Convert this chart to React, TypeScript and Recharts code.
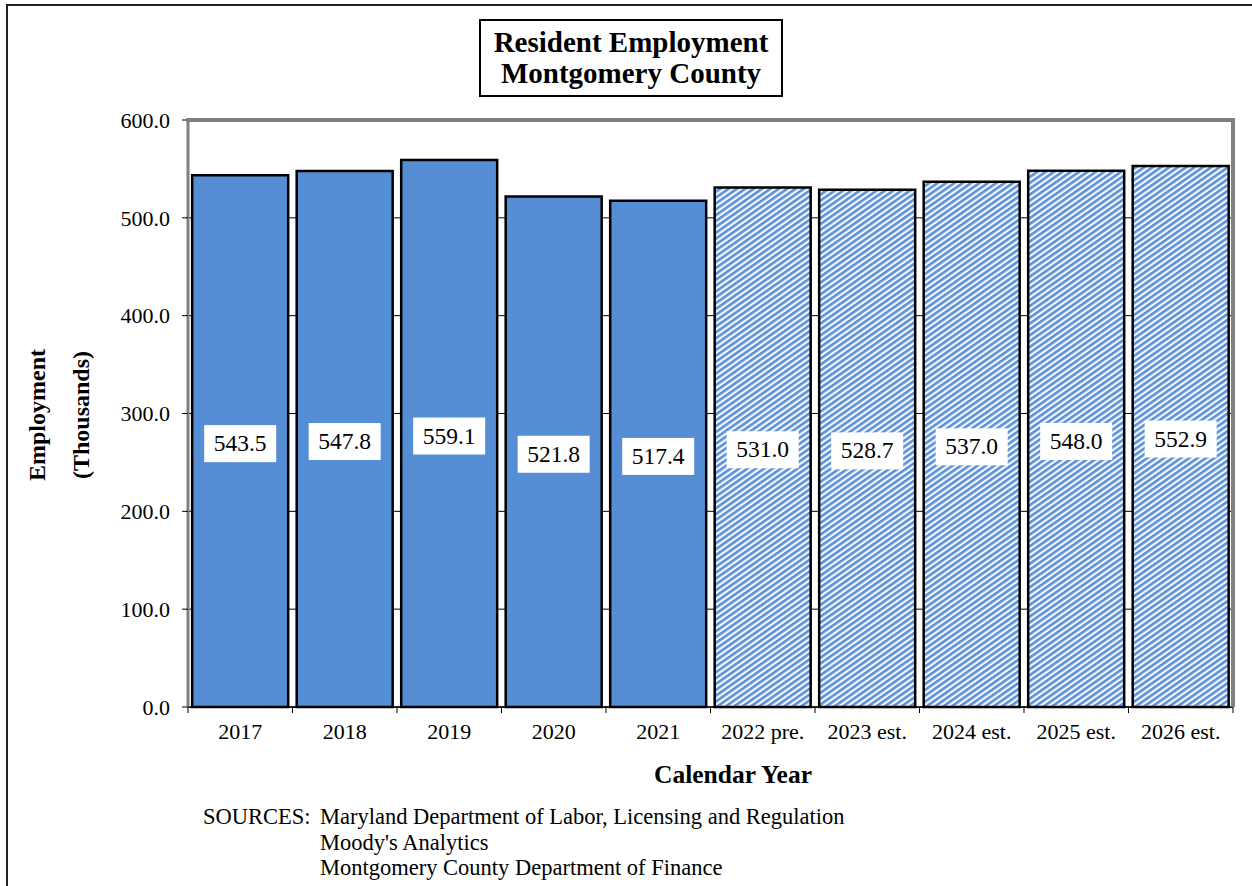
import React from 'react';
import { BarChart, Bar, Cell, XAxis, YAxis, CartesianGrid, LabelList } from 'recharts';

const categories = ['2017', '2018', '2019', '2020', '2021', '2022 pre.', '2023 est.', '2024 est.', '2025 est.', '2026 est.'];
const employment = [543.5, 547.8, 559.1, 521.8, 517.4, 531.0, 528.7, 537.0, 548.0, 552.9];
const isEstimate = [false, false, false, false, false, true, true, true, true, true];
const yTicks = [0, 100, 200, 300, 400, 500, 600];
const sources = [
  'Maryland Department of Labor, Licensing and Regulation',
  "Moody's Analytics",
  'Montgomery County Department of Finance',
];

const data = categories.map((year, i) => ({ year, value: employment[i], est: isEstimate[i] }));

const W = 1252;
const H = 886;
const FONT = '"Liberation Serif", "Times New Roman", serif';
const BLUE = '#558ED5';
const margin = { top: 120, right: 19, bottom: 149, left: 128 };
const Y_AXIS_W = 60;
const plotW = W - margin.left - Y_AXIS_W - margin.right;
const band = plotW / categories.length;

// tick labels at band centre, tick marks at band edges
const XTick = (props: any) => {
  const { x, y, payload, index } = props;
  const half = band / 2;
  return (
    <g>
      <line x1={x - half} y1={y - 6} x2={x - half} y2={y} stroke="#000" strokeWidth={1} />
      {index === categories.length - 1 && (
        <line x1={x + half} y1={y - 6} x2={x + half} y2={y} stroke="#000" strokeWidth={1} />
      )}
      <text x={x} y={y + 26} textAnchor="middle" style={{ fontFamily: FONT, fontSize: 22 }} fill="#000">
        {payload.value}
      </text>
    </g>
  );
};

const ValueLabel = (props: any) => {
  const { x, y, width, height, value } = props;
  const cx = x + width / 2;
  const cy = y + height / 2 + 2;
  return (
    <g>
      <rect x={cx - 36} y={cy - 18} width={72} height={37} fill="#fff" />
      <text x={cx} y={cy + 8} textAnchor="middle" style={{ fontFamily: FONT, fontSize: 23.5 }} fill="#000">
        {Number(value).toFixed(1)}
      </text>
    </g>
  );
};

export default function App() {
  return (
    <div style={{ position: 'absolute', left: 0, top: 0, width: W, height: H, background: '#fff', fontFamily: FONT, color: '#000' }}>
      <BarChart width={W} height={H} data={data} margin={margin} barCategoryGap="4%">
        <defs>
          <pattern id="hatch" patternUnits="userSpaceOnUse" width="10" height="4.8" patternTransform="rotate(-35)">
            <rect x="0" y="0" width="10" height="4.8" fill="#f4f8fd" />
            <rect x="0" y="0" width="10" height="2.6" fill="#5A90D6" />
          </pattern>
        </defs>
        <CartesianGrid vertical={false} stroke="#000" strokeWidth={1} />
        <XAxis
          dataKey="year"
          interval={0}
          height={30}
          tickSize={6}
          tickMargin={0}
          tickLine={false}
          axisLine={{ stroke: '#000', strokeWidth: 1.5 }}
          tick={<XTick />}
        />
        <YAxis
          width={Y_AXIS_W}
          domain={[0, 600]}
          ticks={yTicks}
          interval={0}
          tickSize={6}
          tickMargin={12}
          tickFormatter={(v: number) => v.toFixed(1)}
          axisLine={{ stroke: '#808080', strokeWidth: 3 }}
          tickLine={{ stroke: '#000', strokeWidth: 1 }}
          tick={{ fill: '#000', style: { fontFamily: FONT, fontSize: 22 } }}
        />
        <Bar dataKey="value" stroke="#000" strokeWidth={2.5} isAnimationActive={false}>
          {data.map((d, i) => (
            <Cell key={i} fill={d.est ? 'url(#hatch)' : BLUE} />
          ))}
          <LabelList dataKey="value" position="center" content={<ValueLabel />} />
        </Bar>
      </BarChart>

      {/* plot frame: top and right */}
      <div style={{ position: 'absolute', left: 186, top: 118, width: 1049, height: 4, background: '#808080' }} />
      <div style={{ position: 'absolute', left: 1231, top: 118, width: 4, height: 589, background: '#808080' }} />

      {/* outer border */}
      <div style={{ position: 'absolute', left: 6, top: 4, width: 1246, height: 882, borderTop: '2px solid #222', borderLeft: '2px solid #222', boxSizing: 'border-box' }} />

      {/* title box */}
      <div
        style={{
          position: 'absolute', left: 479, top: 19, width: 304, height: 78, border: '2px solid #000', boxSizing: 'border-box',
          background: '#fff', textAlign: 'center', fontWeight: 'bold', fontSize: 29, lineHeight: '31px', paddingTop: 6, whiteSpace: 'nowrap',
        }}
      >
        <div>Resident Employment</div>
        <div>Montgomery County</div>
      </div>

      {/* y axis title */}
      <div
        style={{
          position: 'absolute', left: 59 - 150, top: 415 - 44, width: 300, height: 88, transform: 'rotate(-90deg)',
          textAlign: 'center', fontWeight: 'bold', fontSize: 24, lineHeight: '44px',
        }}
      >
        <div>Employment</div>
        <div>(Thousands)</div>
      </div>

      {/* x axis title */}
      <div style={{ position: 'absolute', left: 633, top: 760, width: 200, textAlign: 'center', fontWeight: 'bold', fontSize: 25.5, lineHeight: '30px' }}>
        Calendar Year
      </div>

      {/* sources */}
      <div style={{ position: 'absolute', left: 203, top: 804, fontSize: 22.5, lineHeight: '25.5px' }}>SOURCES:</div>
      <div style={{ position: 'absolute', left: 320, top: 804, fontSize: 22.5, lineHeight: '25.5px', whiteSpace: 'nowrap' }}>
        {sources.map((s) => (
          <div key={s}>{s}</div>
        ))}
      </div>
    </div>
  );
}
